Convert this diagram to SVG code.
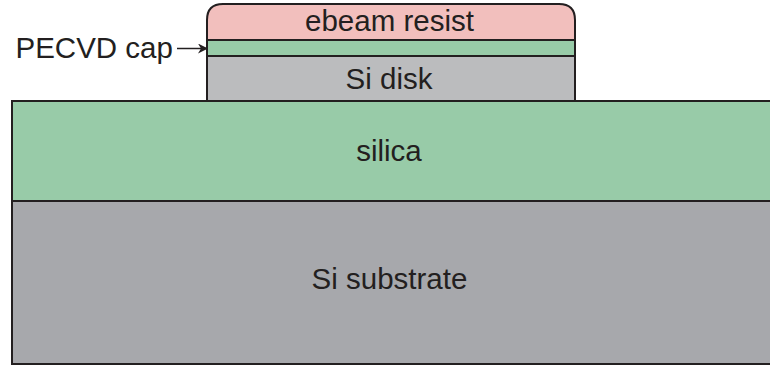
<svg xmlns="http://www.w3.org/2000/svg" width="770" height="366" viewBox="0 0 770 366">
  <defs>
    <marker id="arrowhead" viewBox="0 0 10 10" refX="10" refY="5" markerWidth="10" markerHeight="10" markerUnits="userSpaceOnUse" orient="auto">
      <path d="M0,0 L10,5 L0,10 L3,5 Z" fill="#231f20"/>
    </marker>
  </defs>
  <style>
    .layer { stroke: #231f20; stroke-width: 2; }
    .label { font-family: "Liberation Sans", Arial, sans-serif; font-size: 29.5px; fill: #231f20; text-anchor: middle; }
  </style>
  <rect width="770" height="366" fill="#ffffff"/>

  <g id="substrate">
    <rect class="layer" x="12" y="201" width="770" height="163" fill="#a7a8ac"/>
    <text class="label" x="389.5" y="288.5">Si substrate</text>
  </g>

  <g id="silica">
    <rect class="layer" x="12" y="101" width="770" height="100" fill="#98cba8"/>
    <text class="label" x="389" y="161">silica</text>
  </g>

  <g id="si-disk">
    <rect class="layer" x="207" y="56" width="368" height="45" fill="#bbbcbe"/>
    <text class="label" x="389" y="88.5">Si disk</text>
  </g>

  <g id="pecvd-cap">
    <rect class="layer" x="207" y="40" width="368" height="16" fill="#98cba8"/>
  </g>

  <g id="ebeam-resist">
    <path class="layer" d="M207,40 V20 Q207,4 223,4 H559 Q575,4 575,20 V40 Z" fill="#f2bfbd"/>
    <text class="label" x="389.5" y="30.5">ebeam resist</text>
  </g>

  <g id="connectors">
    <line x1="177" y1="48.5" x2="208" y2="48.5" stroke="#231f20" stroke-width="1.5" marker-end="url(#arrowhead)"/>
  </g>
  <text class="label" x="15.5" y="58" style="text-anchor:start">PECVD cap</text>
</svg>
